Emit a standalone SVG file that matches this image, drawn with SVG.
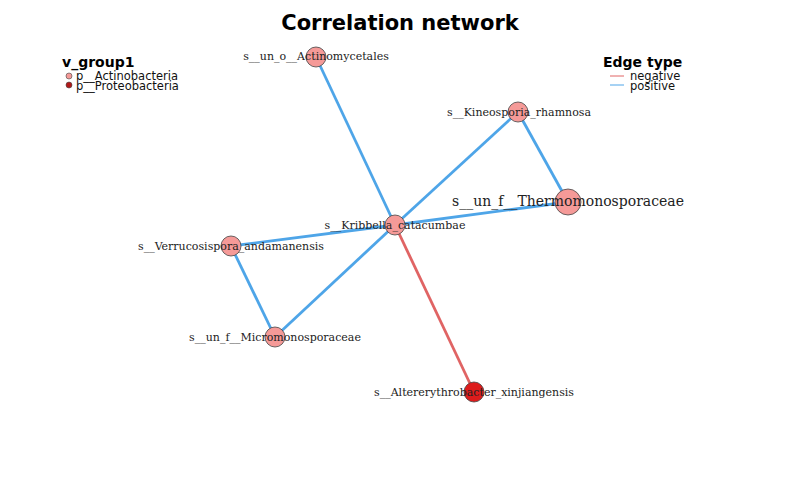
<svg xmlns="http://www.w3.org/2000/svg" width="800" height="494" viewBox="0 0 800 494">
<style>
.pos{stroke:#4ea5e8;stroke-width:2.8;fill:none}
.neg{stroke:#e06464;stroke-width:2.8;fill:none}
.a{fill:#f59a98;stroke:#444;stroke-width:0.8}
.p{fill:#dd1c1c;stroke:#444;stroke-width:0.8}
.lb{font-family:"DejaVu Serif",serif;font-size:11px;fill:#222;text-anchor:middle}
.lg{font-family:"DejaVu Sans",sans-serif;font-size:11.5px;fill:#111}
.lt{font-family:"DejaVu Sans",sans-serif;font-size:14px;font-weight:bold;fill:#000}
</style>
<rect width="800" height="494" fill="#fff"/>
<text x="400" y="30" text-anchor="middle" font-family="DejaVu Sans,sans-serif" font-size="21" font-weight="bold">Correlation network</text>
<g id="legend-group">
<text class="lt" x="62" y="67">v_group1</text>
<circle cx="69" cy="76" r="3" fill="#f59a98" stroke="#444" stroke-width="0.6"/>
<text class="lg" x="76" y="79.5">p__Actinobacteria</text>
<circle cx="69" cy="85" r="3" fill="#b01818" stroke="#444" stroke-width="0.6"/>
<text class="lg" x="76" y="89.5">p__Proteobacteria</text>
</g>
<g id="legend-edge">
<text class="lt" x="603" y="67">Edge type</text>
<line x1="610" y1="76" x2="624" y2="76" stroke="#e06464"/>
<text class="lg" x="630" y="79.5">negative</text>
<line x1="610" y1="85" x2="624" y2="85" stroke="#4ea5e8"/>
<text class="lg" x="630" y="89.5">positive</text>
</g>
<g id="edges">
<line class="pos" x1="395" y1="225" x2="316" y2="57"/>
<line class="pos" x1="395" y1="225" x2="518" y2="112"/>
<line class="pos" x1="518" y1="112" x2="568" y2="202"/>
<line class="pos" x1="395" y1="225" x2="568" y2="202"/>
<line class="pos" x1="395" y1="225" x2="231" y2="246"/>
<line class="pos" x1="231" y1="246" x2="275" y2="337"/>
<line class="pos" x1="395" y1="225" x2="275" y2="337"/>
<line class="neg" x1="395" y1="225" x2="474" y2="392"/>
</g>
<g id="n1"><circle class="a" cx="316" cy="57" r="10"/><text class="lb" x="316" y="60">s__un_o__Actinomycetales</text></g>
<g id="n2"><circle class="a" cx="518" cy="112" r="10"/><text class="lb" x="519" y="116">s__Kineosporia_rhamnosa</text></g>
<g id="n3"><circle class="a" cx="568" cy="202" r="13"/><text class="lb" x="568" y="206" style="font-size:14px">s__un_f__Thermomonosporaceae</text></g>
<g id="n4"><circle class="a" cx="395" cy="225" r="10"/><text class="lb" x="395" y="229">s__Kribbella_catacumbae</text></g>
<g id="n5"><circle class="a" cx="231" cy="246" r="10"/><text class="lb" x="231" y="250">s__Verrucosispora_andamanensis</text></g>
<g id="n6"><circle class="a" cx="275" cy="337" r="10"/><text class="lb" x="275" y="341">s__un_f__Micromonosporaceae</text></g>
<g id="n7"><circle class="p" cx="474" cy="392" r="10"/><text class="lb" x="474" y="396">s__Altererythrobacter_xinjiangensis</text></g>
</svg>
